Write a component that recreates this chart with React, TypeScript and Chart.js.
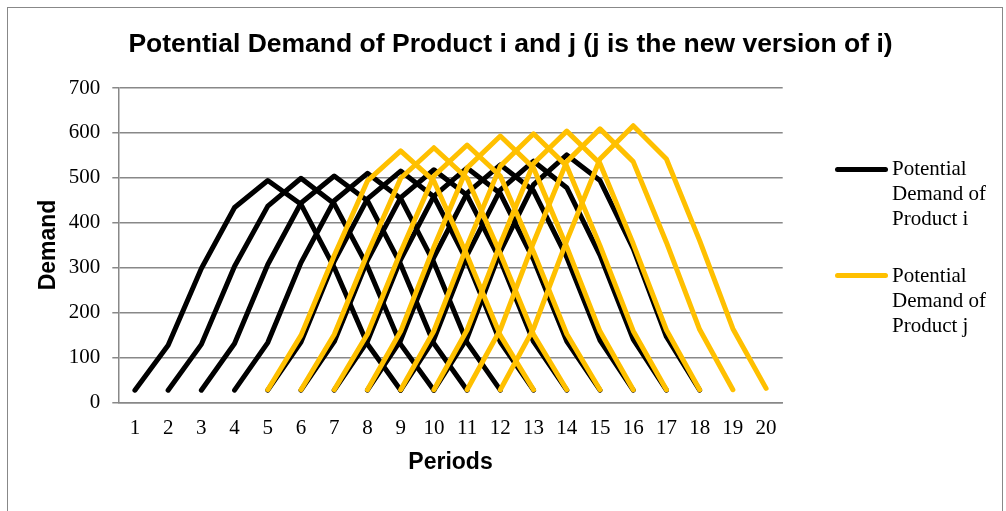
import React, { useEffect, useRef } from "react";
import { Chart, registerables } from "chart.js";

Chart.register(...registerables);

const periods = ["1", "2", "3", "4", "5", "6", "7", "8", "9", "10", "11", "12", "13", "14", "15", "16", "17", "18", "19", "20"];
const yTickValues = [0, 100, 200, 300, 400, 500, 600, 700];

// Product i generations: first period of each curve, then its values
const productIStarts = [1, 2, 3, 4, 5, 6, 7, 8, 9, 10];
const productI1 = [27, 127, 298, 434, 494, 441, 300, 130, 27];
const productI2 = [27, 129, 303, 437, 499, 442, 303, 129, 27];
const productI3 = [27, 131, 307, 444, 504, 449, 307, 131, 27];
const productI4 = [27, 133, 311, 449, 510, 454, 311, 133, 27];
const productI5 = [27, 134, 314, 453, 515, 458, 314, 134, 27];
const productI6 = [27, 135, 316, 456, 518, 461, 316, 135, 27];
const productI7 = [27, 136, 318, 459, 522, 465, 318, 136, 27];
const productI8 = [27, 138, 323, 466, 529, 471, 323, 138, 27];
const productI9 = [27, 140, 328, 473, 537, 478, 328, 140, 27];
const productI10 = [27, 143, 336, 485, 551, 494, 342, 146, 27];
const productI = [productI1, productI2, productI3, productI4, productI5, productI6, productI7, productI8, productI9, productI10];

// Product j generations
const productJStarts = [5, 6, 7, 8, 9, 10, 11, 12];
const productJ1 = [28, 149, 327, 493, 560, 493, 327, 149, 28];
const productJ2 = [28, 151, 331, 499, 567, 499, 331, 151, 28];
const productJ3 = [28, 152, 335, 504, 573, 504, 335, 152, 28];
const productJ4 = [28, 158, 346, 522, 593, 522, 346, 158, 28];
const productJ5 = [28, 159, 349, 526, 598, 526, 349, 159, 28];
const productJ6 = [28, 161, 353, 532, 604, 532, 353, 161, 28];
const productJ7 = [28, 162, 356, 536, 609, 536, 356, 162, 28];
const productJ8 = [28, 164, 360, 542, 616, 542, 360, 164, 31];
const productJ = [productJ1, productJ2, productJ3, productJ4, productJ5, productJ6, productJ7, productJ8];

const titleText = "Potential Demand of Product i and j (j is the new version of i)";
const xTitle = "Periods";
const yTitle = "Demand";
const legendI = ["Potential", "Demand of", "Product i"];
const legendJ = ["Potential", "Demand of", "Product j"];

const BLACK = "#000000";
const GOLD = "#FFC000";
const GRID = "#888888";

function place(values: number[], start: number): (number | null)[] {
  return periods.map((_, idx) => {
    const off = idx + 1 - start;
    return off >= 0 && off < values.length ? values[off] : null;
  });
}

const textPlugin = {
  id: "textPlugin",
  afterDraw(chart: any) {
    const ctx = chart.ctx as CanvasRenderingContext2D;
    ctx.save();
    ctx.fillStyle = "#000";
    ctx.textAlign = "center";
    ctx.textBaseline = "alphabetic";
    ctx.font = "bold 26.5px 'Liberation Sans', Arial, sans-serif";
    ctx.fillText(titleText, 510.5, 52);
    ctx.font = "bold 23px 'Liberation Sans', Arial, sans-serif";
    ctx.fillText(xTitle, 450.5, 469);
    ctx.translate(55, 245);
    ctx.rotate(-Math.PI / 2);
    ctx.fillText(yTitle, 0, 0);
    ctx.restore();
  },
};

export default function App() {
  const ref = useRef<HTMLCanvasElement | null>(null);

  useEffect(() => {
    if (!ref.current) return;
    const datasets: any[] = [];
    productI.forEach((vals, i) => {
      datasets.push({
        label: "Potential Demand of Product i",
        data: place(vals, productIStarts[i]),
        borderColor: BLACK,
        backgroundColor: BLACK,
        borderWidth: 5,
        pointRadius: 0,
        tension: 0,
        borderCapStyle: "round",
        borderJoinStyle: "round",
        spanGaps: false,
        order: 2,
      });
    });
    productJ.forEach((vals, i) => {
      datasets.push({
        label: "Potential Demand of Product j",
        data: place(vals, productJStarts[i]),
        borderColor: GOLD,
        backgroundColor: GOLD,
        borderWidth: 5,
        pointRadius: 0,
        tension: 0,
        borderCapStyle: "round",
        borderJoinStyle: "round",
        spanGaps: false,
        order: 1,
      });
    });

    const chart = new Chart(ref.current, {
      type: "line",
      data: { labels: periods, datasets },
      options: {
        responsive: false,
        animation: false,
        layout: { padding: { left: 0, top: 88, right: 223.3, bottom: 48.7 } },
        plugins: {
          legend: { display: false },
          title: { display: false },
          tooltip: { enabled: false },
        },
        scales: {
          x: {
            type: "category",
            offset: true,
            grid: { display: false, drawTicks: false },
            border: { display: true, color: GRID, width: 1.5 },
            ticks: {
              color: "#000",
              padding: 14,
              maxRotation: 0,
              autoSkip: false,
              font: { family: "'Liberation Serif', 'Times New Roman', serif", size: 21 },
            },
            afterFit(scale: any) {
              scale.height = 60;
            },
          },
          y: {
            min: 0,
            max: 700,
            afterBuildTicks(scale: any) {
              scale.ticks = yTickValues.map((v) => ({ value: v }));
            },
            grid: { color: GRID, lineWidth: 1.5, drawTicks: true, tickLength: 6 },
            border: { display: true, color: GRID, width: 1.5 },
            ticks: {
              color: "#000",
              padding: 12,
              font: { family: "'Liberation Serif', 'Times New Roman', serif", size: 21 },
            },
            afterFit(scale: any) {
              scale.width = 118.3;
            },
          },
        },
      },
      plugins: [textPlugin],
    });
    return () => chart.destroy();
  }, []);

  const legendText: React.CSSProperties = {
    position: "absolute",
    left: 892,
    fontFamily: "'Liberation Serif', 'Times New Roman', serif",
    fontSize: 21,
    lineHeight: "25px",
    color: "#000",
    whiteSpace: "nowrap",
  };

  return (
    <div style={{ position: "absolute", left: 0, top: 0, width: 1006, height: 511, overflow: "hidden", background: "#fff" }}>
      <canvas ref={ref} width={1006} height={511} style={{ display: "block", position: "absolute", left: 0, top: 0 }} />
      <div style={{ position: "absolute", left: 7, top: 7, width: 994, height: 520, border: "1.5px solid #888888", pointerEvents: "none" }} />
      <div style={{ position: "absolute", left: 835, top: 166.5, width: 53, height: 5, background: BLACK, borderRadius: 3 }} />
      <div style={{ ...legendText, top: 155.5 }}>
        {legendI.map((t) => (
          <div key={t}>{t}</div>
        ))}
      </div>
      <div style={{ position: "absolute", left: 835, top: 272.5, width: 53, height: 5, background: GOLD, borderRadius: 3 }} />
      <div style={{ ...legendText, top: 262.5 }}>
        {legendJ.map((t) => (
          <div key={t}>{t}</div>
        ))}
      </div>
    </div>
  );
}
